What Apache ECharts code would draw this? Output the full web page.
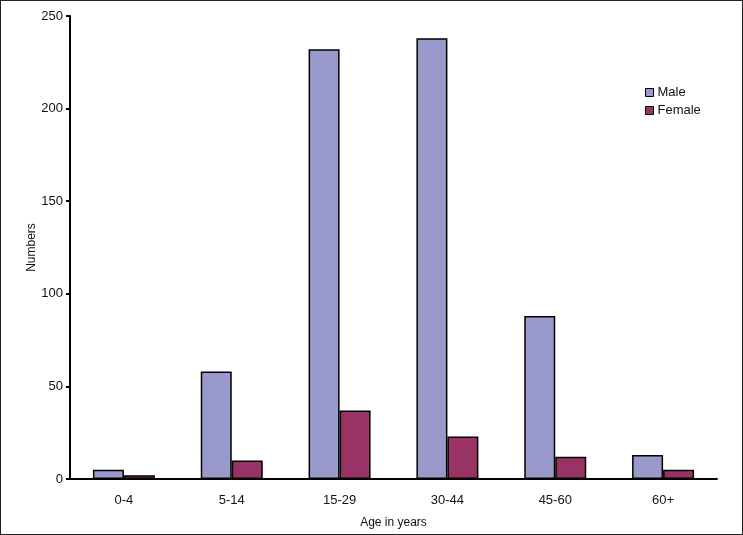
<!DOCTYPE html>
<html><head><meta charset="utf-8">
<script src="https://cdn.jsdelivr.net/npm/echarts@6/dist/echarts.min.js"></script>
<style>
html,body{margin:0;padding:0;background:#fff;}
#c{width:743px;height:535px;box-sizing:border-box;border:1px solid #222;}
</style></head>
<body><div id="c"></div>
<script>
const categories = ['0-4','5-14','15-29','30-44','45-60','60+'];
const maleValues = [5,58,232,238,88,13];
const femaleValues = [2,10,37,23,12,5];
const yTicks = [0,50,100,150,200,250];

const chart = echarts.init(document.getElementById('c'));
const font = 'Liberation Sans, Arial, sans-serif';
chart.setOption({
  animation:false,
  textStyle:{fontFamily:font},
  grid:{left:69,right:25,top:15,bottom:54},
  legend:{
    orient:'vertical', left:639, top:80, itemWidth:8, itemHeight:8, itemGap:5,
    icon:'rect',
    textStyle:{fontFamily:font,fontSize:13,color:'#111',padding:[0,0,0,-1]},
    data:[{name:'Male',itemStyle:{borderColor:'#000',borderWidth:1}},{name:'Female',itemStyle:{borderColor:'#000',borderWidth:1}}]
  },
  xAxis:{
    type:'category', data:categories,
    name:'Age in years', nameLocation:'middle', nameGap:38, nameMoveOverlap:false,
    nameTextStyle:{fontFamily:font,fontSize:12,color:'#111'},
    axisLine:{lineStyle:{color:'#000',width:2}},
    axisTick:{length:5,lineStyle:{color:'#000',width:2}},
    axisLabel:{fontFamily:font,fontSize:13,color:'#111',margin:15}
  },
  yAxis:{
    type:'value', min:yTicks[0], max:yTicks[yTicks.length-1], interval:50,
    name:'Numbers', nameLocation:'middle', nameGap:32, nameRotate:90, nameMoveOverlap:false,
    nameTextStyle:{fontFamily:font,fontSize:12,color:'#111'},
    axisLine:{show:true,lineStyle:{color:'#000',width:2}},
    axisTick:{show:true,length:4,lineStyle:{color:'#000',width:2}},
    axisLabel:{fontFamily:font,fontSize:13,color:'#111',margin:7},
    splitLine:{show:false}
  },
  series:[
    {name:'Male',type:'bar',data:maleValues,barWidth:31,barGap:'0%',
     itemStyle:{color:'#9999CC',borderColor:'#000',borderWidth:1.5}},
    {name:'Female',type:'bar',data:femaleValues,barWidth:31,
     itemStyle:{color:'#993366',borderColor:'#000',borderWidth:1.5}}
  ]
});
</script></body></html>
